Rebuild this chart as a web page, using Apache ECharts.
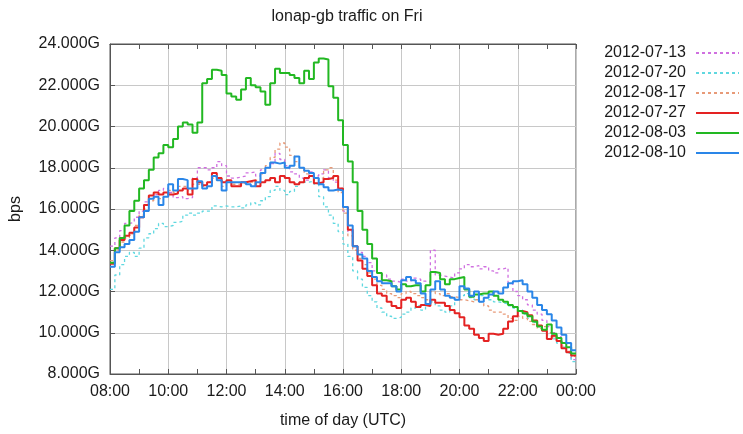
<!DOCTYPE html>
<html><head><meta charset="utf-8">
<script src="https://cdn.jsdelivr.net/npm/echarts@6/dist/echarts.min.js"></script>
<style>html,body{margin:0;padding:0;background:#fff}#c{width:743px;height:434px}</style>
</head><body><div id="c"></div>
<script>
// ---- data (Gbps, 10-minute slots starting 08:00) ----
const chartTitle = 'lonap-gb traffic on Fri';
const xAxisName = 'time of day (UTC)';
const yAxisName = 'bps';
const seriesNames = ['2012-07-13', '2012-07-20', '2012-08-17', '2012-07-27', '2012-08-03', '2012-08-10'];
const xTickLabels = ['08:00', '10:00', '12:00', '14:00', '16:00', '18:00', '20:00', '22:00', '00:00'];
const startHour = 8;
const slotMinutes = 10;

const v20120713 = [
  14.2, 14.6, 14.95, 15.3, 15.35, 15.6,
  15.9, 16.35, 16.5, 16.7, 16.9, 17.0,
  16.8, 16.55, 16.6, 16.5, 16.55, 17.5,
  18.0, 18.0, 17.9, 18.0, 18.3, 18.1,
  17.6, 17.5, 17.55, 17.6, 17.75, 17.8,
  17.6, 17.9, 18.0, 18.2, 18.7, 18.4,
  18.1, 17.8, 17.7, 17.5, 17.4, 17.8,
  17.6, 17.7, 17.9, 17.5, 17.3, 17.0,
  15.9, 14.9, 14.2, 13.9, 13.7, 13.4,
  13.0, 12.9, 12.8, 12.6, 12.5, 12.45,
  12.6, 12.5, 12.65, 12.6, 12.5, 12.45,
  14.0, 12.8, 12.75, 12.7, 12.65, 12.9,
  13.1, 13.3, 13.2, 13.25, 13.1, 13.2,
  13.0, 12.9, 13.1, 13.15, 12.4, 12.0,
  11.8, 11.6, 11.35, 11.1, 10.9, 10.6,
  10.3, 10.0, 9.8, 9.5, 9.1, 8.7
];
const v20120720 = [
  12.1, 12.8, 13.3, 13.7, 13.9, 13.7,
  14.1, 14.6, 14.8, 15.05, 15.3, 15.15,
  15.2, 15.35, 15.4, 15.7, 15.8, 15.7,
  15.8, 15.9, 15.9, 16.15, 16.1, 16.15,
  16.1, 16.1, 16.15, 16.05, 16.2, 16.3,
  16.2, 16.4, 16.6, 16.9, 17.1, 16.9,
  16.7, 16.85, 17.1, 17.3, 17.3, 17.35,
  17.2, 16.6, 16.1, 15.7, 15.3, 14.9,
  14.3, 13.7, 13.0, 12.6, 12.2, 11.8,
  11.5, 11.2, 11.0, 10.8, 10.7, 10.75,
  10.9, 11.0, 11.2, 11.3, 11.1, 11.4,
  11.5, 11.3, 11.1, 11.0, 11.3, 11.6,
  11.8, 11.9, 11.7, 11.6, 11.8, 11.7,
  11.6, 11.5, 11.45, 11.4, 11.3, 11.2,
  11.1, 10.9, 10.7, 10.5, 10.3, 10.1,
  9.9, 9.7, 9.5, 9.3, 9.0, 8.6
];
const v20120817 = [
  13.5, 14.0, 14.4, 14.6, 14.8, 15.2,
  15.7, 16.0, 16.4, 16.6, 16.5, 16.6,
  16.9, 16.8, 17.1, 17.1, 16.9, 17.2,
  17.2, 17.1, 17.3, 17.5, 17.4, 17.1,
  17.3, 17.2, 17.2, 17.25, 17.3, 17.3,
  17.4, 17.7, 18.1, 18.5, 18.9, 19.2,
  19.0, 18.6, 18.3, 18.0, 17.7, 17.6,
  17.4, 17.5, 17.9, 18.0, 17.4, 16.8,
  15.8, 14.7, 14.0, 13.6, 13.3, 12.9,
  12.6, 12.3, 12.1, 11.9, 11.8, 11.7,
  11.9, 12.0, 11.9, 11.8, 11.7, 11.6,
  12.0, 11.9, 11.8, 11.9, 11.75, 11.7,
  11.6, 11.55, 11.5, 11.6, 11.5, 11.3,
  11.1, 11.0, 11.0, 10.9, 10.7, 10.6,
  10.8, 10.7, 10.55, 10.4, 10.2, 10.3,
  10.0, 9.8, 9.6, 9.35, 9.1, 8.85
];
const v20120727 = [
  13.35, 14.1, 14.5, 14.7, 14.85, 15.1,
  15.6, 16.2, 16.65, 16.8, 16.7, 16.8,
  16.7, 16.75, 16.9, 17.0, 16.7, 17.45,
  17.3, 17.15, 17.3, 17.75, 17.5, 17.3,
  17.4, 17.1, 17.1, 17.3, 17.35, 17.4,
  17.1, 17.3, 17.4, 17.5, 17.3, 17.6,
  17.5, 17.3, 17.2, 17.3, 17.5, 17.6,
  17.25, 17.3, 17.45, 17.5, 17.6, 17.0,
  16.1, 15.0, 14.2, 13.5, 13.1, 12.75,
  12.3, 11.9, 11.8, 11.5, 11.3, 11.2,
  11.6, 11.7, 11.5, 11.25, 11.35, 11.3,
  11.6, 11.45, 11.45, 11.3, 11.1, 10.95,
  10.75, 10.35, 10.2, 9.9, 9.75, 9.6,
  9.95, 9.9, 9.95, 10.2, 10.55, 10.8,
  11.05, 11.0, 10.85, 10.6, 10.35, 10.1,
  9.7, 9.85, 9.6, 9.25, 9.05, 8.9
];
const v20120803 = [
  13.4, 14.1, 14.6, 15.2, 15.9, 16.4,
  17.0, 17.4, 17.9, 18.5, 18.7, 19.1,
  19.0, 19.4, 20.0, 20.2, 20.1, 19.7,
  20.2, 22.1, 22.3, 22.75, 22.7, 22.5,
  21.6, 21.45, 21.3, 21.8, 22.35, 22.0,
  21.9, 21.7, 21.05, 22.1, 22.8, 22.6,
  22.6, 22.5, 22.35, 22.1, 22.7, 22.3,
  23.1, 23.3, 23.25, 21.95, 21.4, 20.3,
  19.1, 18.3, 17.3, 15.9, 15.0, 14.3,
  13.6, 12.9, 12.55, 12.5, 12.25, 12.1,
  12.35, 12.25, 12.3, 12.3, 12.0, 12.3,
  12.95, 12.9, 12.6, 12.35, 12.6, 12.65,
  12.7, 12.1, 11.75, 11.85, 11.9, 11.9,
  12.0, 11.8, 11.6, 11.5, 11.35, 11.25,
  11.05, 10.95, 10.8, 10.55, 10.3, 10.15,
  10.4, 9.95, 9.75, 9.5, 9.3, 9.0
];
const v20120810 = [
  13.2, 13.9, 14.15, 14.3, 14.5, 14.9,
  15.6, 15.9, 16.5, 16.6, 16.2, 16.6,
  17.2, 16.9, 17.45, 17.4, 17.0, 17.0,
  17.35, 17.0, 17.1, 17.6, 17.4, 16.9,
  17.3, 17.3, 17.3, 17.3, 17.2, 17.1,
  17.3, 17.75, 18.0, 18.25, 18.2, 18.25,
  18.0, 18.1, 18.55, 18.0, 17.85, 17.75,
  17.5, 17.2, 17.05, 16.9, 16.95, 16.9,
  16.1, 15.2, 14.2, 13.8, 13.6, 13.0,
  12.7, 12.5, 12.4, 12.4, 12.25, 12.0,
  12.55, 12.7, 12.55, 12.4, 11.9, 11.4,
  12.1, 12.5, 12.1, 11.8, 11.7, 11.6,
  12.25, 12.15, 11.8, 12.0, 11.5, 11.7,
  11.85, 12.0, 11.9, 12.2, 12.4, 12.5,
  12.55, 12.35, 12.0, 11.7, 11.35, 11.1,
  10.9, 10.6, 10.25, 9.9, 9.5, 9.15
];
const seriesValues = [v20120713, v20120720, v20120817, v20120727, v20120803, v20120810];

// ---- styles ----
const seriesStyles = [
  { color: '#d070e0', width: 1.3, type: [3, 3] },
  { color: '#60d8e0', width: 1.3, type: [3, 3] },
  { color: '#e89a78', width: 1.3, type: [3, 3] },
  { color: '#e42222', width: 2, type: 'solid' },
  { color: '#22b822', width: 2, type: 'solid' },
  { color: '#2a86e8', width: 2, type: 'solid' }
];

function toPoints(vals) {
  const pts = vals.map((v, i) => [startHour + i * slotMinutes / 60, v]);
  pts.push([startHour + vals.length * slotMinutes / 60, vals[vals.length - 1]]);
  return pts;
}

const font = 'Liberation Sans, Arial, Helvetica, sans-serif';
const txt = '#1a1a1a';
const chart = echarts.init(document.getElementById('c'), null, { renderer: 'canvas' });

const xBase = {
  type: 'value', min: 8, max: 24, interval: 2,
  splitLine: { show: false },
  axisLine: { show: true, lineStyle: { color: '#555', width: 1 } },
  axisTick: { show: true, inside: true, length: 5, lineStyle: { color: '#555' } },
  minorTick: { show: true, splitNumber: 2, length: 5, lineStyle: { color: '#555' } }
};

chart.setOption({
  animation: false,
  backgroundColor: '#fff',
  title: {
    text: chartTitle, left: 342, top: 4, textAlign: 'center',
    textStyle: { fontFamily: font, fontSize: 16, fontWeight: 'normal', color: txt }
  },
  legend: {
    orient: 'vertical', right: 3, top: 45, padding: 0,
    align: 'right', itemWidth: 43, itemHeight: 14, itemGap: 4,
    itemStyle: { opacity: 0 },
    textStyle: { fontFamily: font, fontSize: 16, color: txt, lineHeight: 16, padding: [0, 5, 0, 0] },
    data: seriesNames
  },
  grid: { left: 108, right: 167, top: 44, bottom: 58, show: true, borderColor: '#555', borderWidth: 1, containLabel: false },
  xAxis: [
    Object.assign({}, xBase, {
      position: 'bottom',
      name: xAxisName, nameLocation: 'middle', nameGap: 39,
      nameTextStyle: { fontFamily: font, fontSize: 16, color: txt },
      axisLabel: {
        fontFamily: font, fontSize: 16, color: txt, margin: 10,
        formatter: v => xTickLabels[Math.round((v - startHour) / 2)]
      },
      splitLine: { show: true, lineStyle: { color: '#c8c8c8', width: 1 } },
      minorTick: { show: true, splitNumber: 2, length: 5, lineStyle: { color: '#555' } }
    }),
    Object.assign({}, xBase, { position: 'top', axisLabel: { show: false } })
  ],
  yAxis: {
    type: 'value', min: 8, max: 24, interval: 2,
    name: yAxisName, nameLocation: 'middle', nameGap: 86, nameRotate: 90,
    nameTextStyle: { fontFamily: font, fontSize: 16, color: txt },
    axisLine: { show: true, lineStyle: { color: '#555', width: 1 } },
    axisTick: { show: true, inside: true, length: 5, lineStyle: { color: '#555' } },
    axisLabel: { fontFamily: font, fontSize: 16, color: txt, margin: 10, formatter: v => v.toFixed(3) + 'G' },
    splitLine: { show: true, lineStyle: { color: '#c8c8c8', width: 1 } }
  },
  series: seriesNames.map((name, k) => ({
    name, type: 'line', step: 'end', symbol: 'none', xAxisIndex: 0,
    data: toPoints(seriesValues[k]),
    color: seriesStyles[k].color,
    lineStyle: { color: seriesStyles[k].color, width: seriesStyles[k].width, type: seriesStyles[k].type },
    z: 2 + k
  }))
});
</script></body></html>
